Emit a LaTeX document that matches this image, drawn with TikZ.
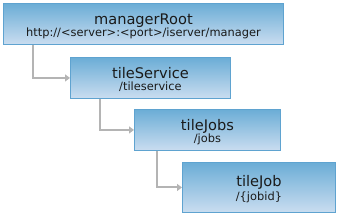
\documentclass[tikz,border=0pt]{standalone}
\usepackage{fontspec}
\setmainfont{DejaVu Sans}
\usetikzlibrary{arrows.meta}
\definecolor{boxtop}{HTML}{6BADD6}
\definecolor{boxbot}{HTML}{CADDF0}
\definecolor{boxline}{HTML}{5FA3D0}
\definecolor{conn}{HTML}{B4B4B4}
\definecolor{txt}{HTML}{1A1A1A}
\tikzset{
  resbox/.style={draw=boxline, line width=0.9pt, top color=boxtop, bottom color=boxbot,
    minimum height=41pt, inner sep=0pt, anchor=north west},
  conn/.style={draw=conn, line width=2pt, -{Triangle[length=5pt,width=7pt]}},
  ttl/.style={font=\fontsize{14.6}{16}\selectfont, text=txt, inner sep=0pt, anchor=base},
  sub/.style={font=\fontsize{11.4}{13}\selectfont, text=txt, inner sep=0pt, anchor=base}
}
\begin{document}
\begin{tikzpicture}[x=1pt,y=-1pt]
\useasboundingbox (0,0) rectangle (337,213);
\node[resbox, minimum width=280pt] (root) at (3,3) {};
\node[resbox, minimum width=160pt] (svc) at (70,57) {};
\node[resbox, minimum width=146pt] (jobs) at (134,109) {};
\node[resbox, minimum width=153pt, minimum height=50pt] (job) at (182,162) {};
\node[ttl] (rootT) at ([yshift=-0.5pt]root.center) {managerRoot};
\node[sub] (rootS) at ([yshift=-13pt]root.center) {http://<server>:<port>/iserver/manager};
\node[ttl] (svcT) at ([yshift=-0.5pt]svc.center) {tileService};
\node[sub] (svcS) at ([yshift=-13pt]svc.center) {/tileservice};
\node[ttl] (jobsT) at ([yshift=-0.5pt]jobs.center) {tileJobs};
\node[sub] (jobsS) at ([yshift=-13pt]jobs.center) {/jobs};
\node[ttl] (jobT) at ([yshift=0.5pt]job.center) {tileJob};
\node[sub] (jobS) at ([yshift=-13.5pt]job.center) {/\{jobid\}};
\draw[conn] ([xshift=30pt]root.south west) |- (svc.west);
\draw[conn] ([xshift=30pt]svc.south west) |- (jobs.west);
\draw[conn] ([xshift=23pt]jobs.south west) |- (job.west);
\end{tikzpicture}
\end{document}
